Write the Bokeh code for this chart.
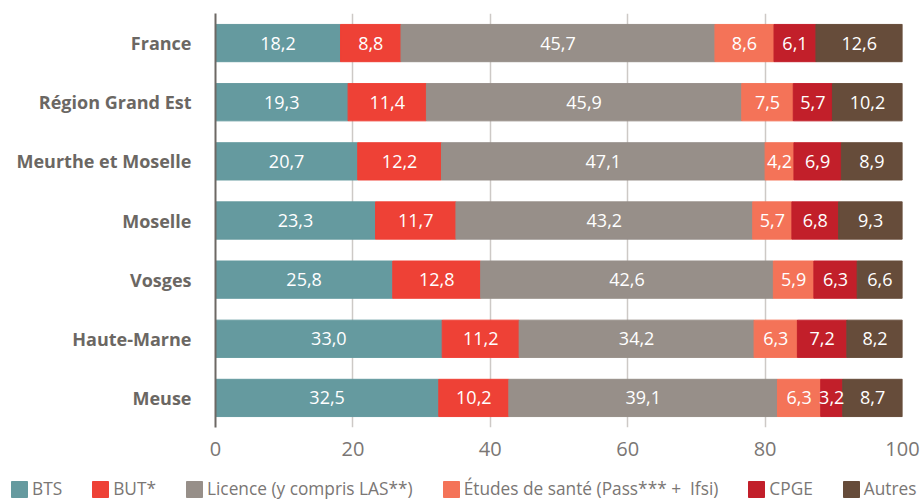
from bokeh.plotting import figure
from bokeh.layouts import column
from bokeh.models import ColumnDataSource, FactorRange, Range1d, FixedTicker, Legend, LegendItem
from bokeh.core.properties import value
from bokeh.embed import file_html
from bokeh.resources import INLINE

regions = ["France", "Région Grand Est", "Meurthe et Moselle", "Moselle", "Vosges", "Haute-Marne", "Meuse"]
series_names = ["BTS", "BUT*", "Licence (y compris LAS**)", "Études de santé (Pass*** +  Ifsi)", "CPGE", "Autres"]
bts = [18.2, 19.3, 20.7, 23.3, 25.8, 33.0, 32.5]
but = [8.8, 11.4, 12.2, 11.7, 12.8, 11.2, 10.2]
licence = [45.7, 45.9, 47.1, 43.2, 42.6, 34.2, 39.1]
sante = [8.6, 7.5, 4.2, 5.7, 5.9, 6.3, 6.3]
cpge = [6.1, 5.7, 6.9, 6.8, 6.3, 7.2, 3.2]
autres = [12.6, 10.2, 8.9, 9.3, 6.6, 8.2, 8.7]
x_ticks = [0, 20, 40, 60, 80, 100]

colors = ["#659a9f", "#ee4136", "#978f89", "#f47358", "#c21f2a", "#664c3a"]
keys = ["bts", "but", "licence", "sante", "cpge", "autres"]
series = [bts, but, licence, sante, cpge, autres]

FONT = "Open Sans"

data = {"region": regions}
for k, s in zip(keys, series):
    data[k] = s
source = ColumnDataSource(data)

p = figure(
    width=922, height=470,
    y_range=FactorRange(factors=list(reversed(regions))),
    x_range=Range1d(0, 100),
    output_backend="svg", toolbar_location=None,
    min_border_left=215, min_border_right=20, min_border_top=13, min_border_bottom=43,
)
p.frame_align = False
p.outline_line_color = None
p.background_fill_color = "white"

p.hbar_stack(keys, y="region", height=0.63, color=colors, source=source)

# value labels
lx, ly, lt = [], [], []
for i, reg in enumerate(regions):
    cum = 0.0
    for s in series:
        v = s[i]
        lx.append(cum + v / 2)
        ly.append(reg)
        lt.append(f"{v:.1f}".replace(".", ","))
        cum += v
lsrc = ColumnDataSource(dict(x=lx, y=ly, t=lt))
p.text(x="x", y="y", text="t", source=lsrc, text_align="center", text_baseline="middle",
       text_color="white", text_font=value(FONT), text_font_size="18px")

# axes
p.xaxis.ticker = FixedTicker(ticks=x_ticks)
p.xaxis.axis_line_color = None
p.xaxis.major_tick_line_color = None
p.xaxis.minor_tick_line_color = None
p.xaxis.major_label_text_font = FONT
p.xaxis.major_label_text_font_size = "20px"
p.xaxis.major_label_text_color = "#7a7674"
p.xaxis.major_label_standoff = 8

p.yaxis.axis_line_color = "#6d6864"
p.yaxis.axis_line_width = 2
p.yaxis.major_tick_line_color = None
p.yaxis.minor_tick_line_color = None
p.yaxis.major_label_text_font = FONT
p.yaxis.major_label_text_font_style = "bold"
p.yaxis.major_label_text_font_size = "18px"
p.yaxis.major_label_text_color = "#6b6763"
p.yaxis.major_label_standoff = 18

p.xgrid.grid_line_color = "#cdc9c6"
p.xgrid.grid_line_width = 1.5
p.xgrid.ticker = FixedTicker(ticks=x_ticks)
p.ygrid.grid_line_color = None

# legend strip (its own full-width frame so the legend is not clipped)
p2 = figure(width=922, height=32, x_range=Range1d(-2, -1), y_range=Range1d(0, 1),
            output_backend="svg", toolbar_location=None,
            min_border_left=0, min_border_right=0, min_border_top=0, min_border_bottom=0,
            x_axis_type=None, y_axis_type=None)
p2.frame_align = False
p2.outline_line_color = None
p2.grid.grid_line_color = None
items = []
for n, c, k in zip(series_names, colors, keys):
    # bars lie outside this strip's x range: only their legend swatches show
    r = p2.hbar(y=0.5, left=0, right=k, height=1, color=c, source=source)
    items.append(LegendItem(label=n, renderers=[r]))
legend = Legend(
    items=items, orientation="horizontal", location=(9, 2),
    glyph_width=20, glyph_height=20, label_height=20, label_standoff=3, spacing=28,
    padding=0, margin=0, border_line_color=None, background_fill_alpha=0,
    label_text_font=FONT, label_text_font_size="17.3px", label_text_color="#7a7674",
)
p2.add_layout(legend)

layout = column(p, p2, spacing=0)
open("out.html", "w").write(file_html(layout, INLINE))
